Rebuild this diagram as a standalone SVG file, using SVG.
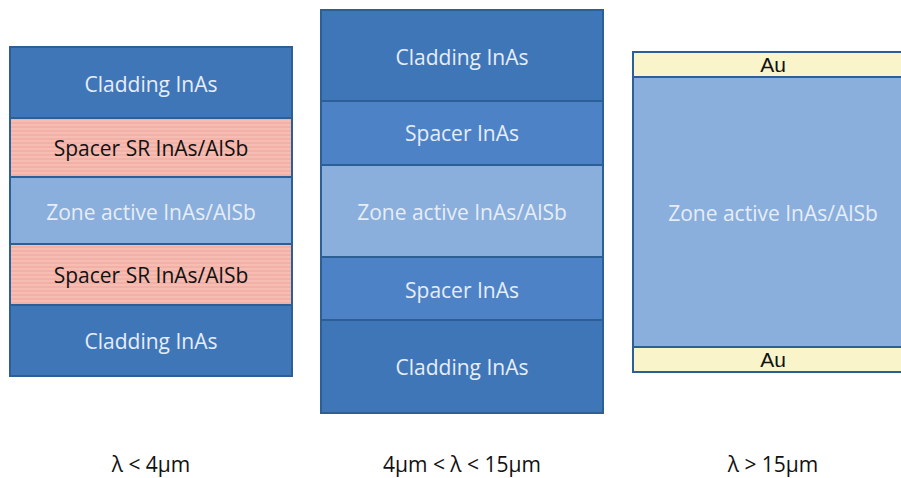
<svg xmlns="http://www.w3.org/2000/svg" width="901" height="478" viewBox="0 0 901 478">
<defs>
<pattern id="stripes" width="8" height="4" patternUnits="userSpaceOnUse">
<rect width="8" height="4" fill="#f7bcb2"/>
<rect y="2.5" width="8" height="1" fill="#eba79c"/>
</pattern>
</defs>
<style>
.clad{fill:#3f76b8;stroke:#2b5f96;stroke-width:2}
.spc{fill:#4d83c6;stroke:#2b5f96;stroke-width:2}
.zone{fill:#8aafdc;stroke:#2b5f96;stroke-width:2}
.sr{fill:url(#stripes);stroke:#2b5f96;stroke-width:2}
.au{fill:#faf4cb;stroke:#2b5f96;stroke-width:2}
.t{font-family:"Open Sans","Liberation Sans",sans-serif;font-size:21px;text-anchor:middle;fill:#e6edf8}
.d{fill:#111}
.a{font-family:"Liberation Sans",sans-serif;font-size:21px;text-anchor:middle;fill:#111}
.lab{font-family:"Open Sans","Liberation Sans",sans-serif;font-size:21px;text-anchor:middle;fill:#111}
</style>
<rect width="901" height="478" fill="#ffffff"/>
<g id="stack1">
<rect class="clad" x="10" y="47" width="282" height="71"/>
<rect class="sr" x="10" y="118" width="282" height="59"/>
<rect class="zone" x="10" y="177" width="282" height="67"/>
<rect class="sr" x="10" y="244" width="282" height="61"/>
<rect class="clad" x="10" y="305" width="282" height="71"/>
<text class="t" x="151" y="92">Cladding InAs</text>
<text class="t d" x="151" y="156">Spacer SR InAs/AlSb</text>
<text class="t" x="151" y="220">Zone active InAs/AlSb</text>
<text class="t d" x="151" y="283">Spacer SR InAs/AlSb</text>
<text class="t" x="151" y="349">Cladding InAs</text>
</g>
<g id="stack2">
<rect class="clad" x="321" y="10" width="282" height="91"/>
<rect class="spc" x="321" y="101" width="282" height="64"/>
<rect class="zone" x="321" y="165" width="282" height="92"/>
<rect class="spc" x="321" y="257" width="282" height="63"/>
<rect class="clad" x="321" y="320" width="282" height="93"/>
<text class="t" x="462" y="65">Cladding InAs</text>
<text class="t" x="462" y="141">Spacer InAs</text>
<text class="t" x="462" y="220">Zone active InAs/AlSb</text>
<text class="t" x="462" y="298">Spacer InAs</text>
<text class="t" x="462" y="375">Cladding InAs</text>
</g>
<g id="stack3">
<rect class="au" x="633" y="52" width="280" height="25"/>
<rect class="zone" x="633" y="77" width="280" height="270"/>
<rect class="au" x="633" y="347" width="280" height="25"/>
<text class="a" x="773" y="72">Au</text>
<text class="t" x="773" y="221">Zone active InAs/AlSb</text>
<text class="a" x="773" y="367">Au</text>
</g>
<g id="labels">
<text class="lab" x="151" y="472">λ &lt; 4µm</text>
<text class="lab" x="462" y="472">4µm &lt; λ &lt; 15µm</text>
<text class="lab" x="773" y="472">λ &gt; 15µm</text>
</g>
<g id="connectors"/>
</svg>
